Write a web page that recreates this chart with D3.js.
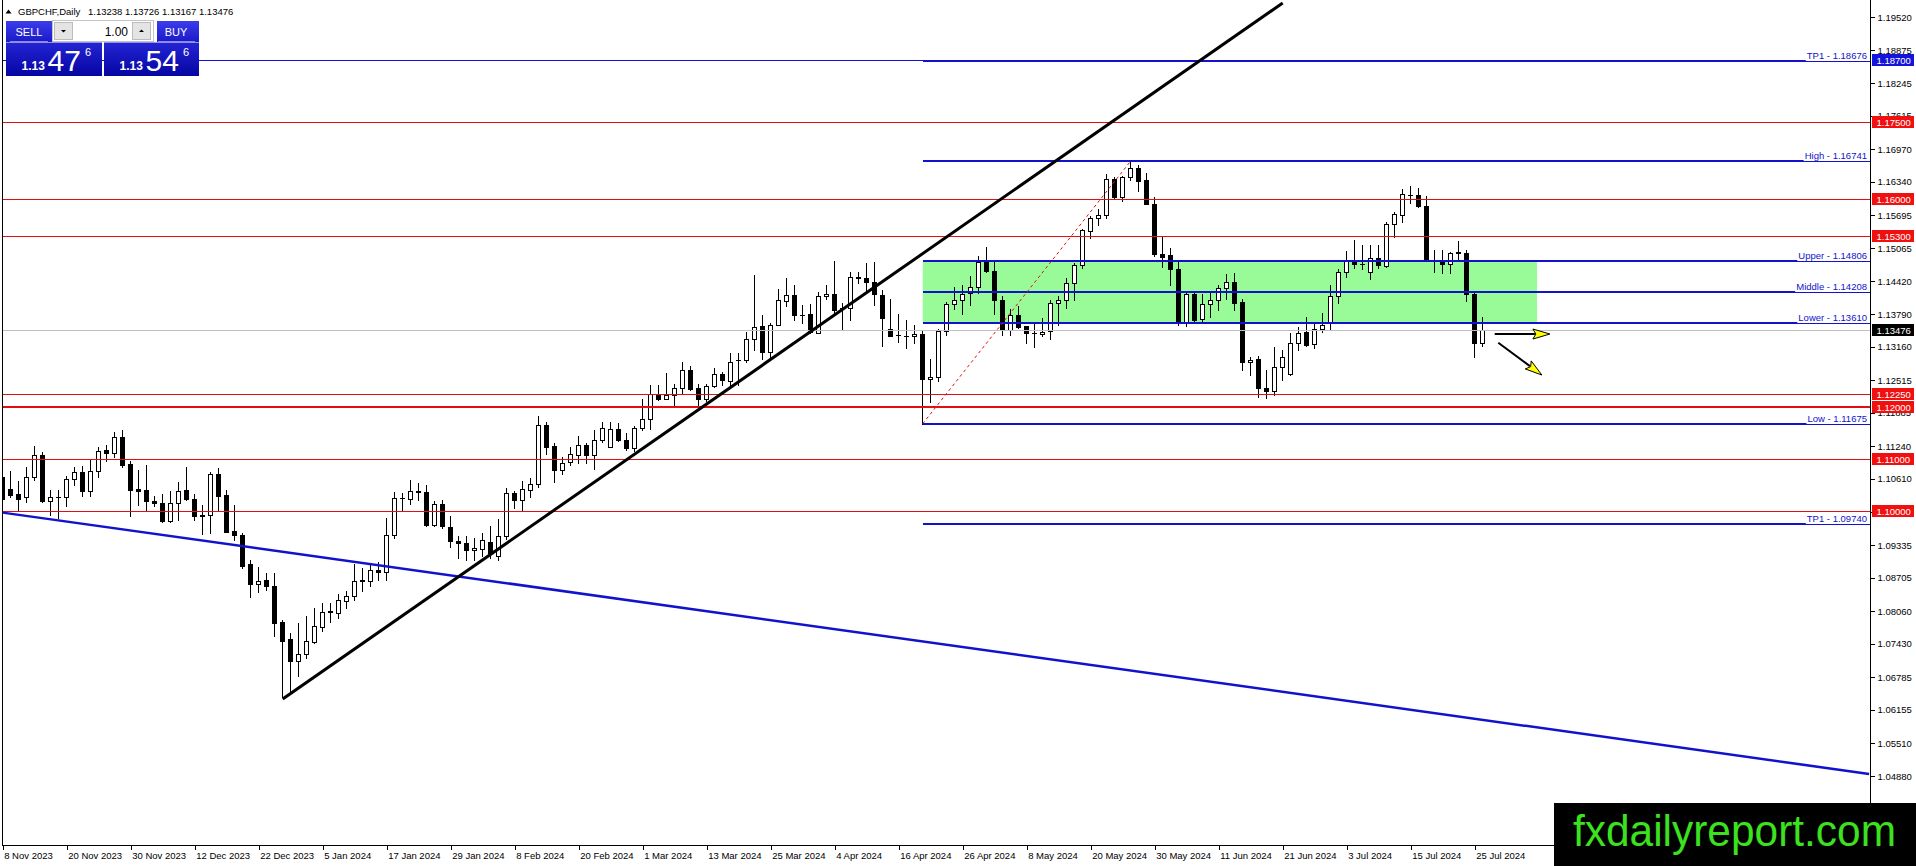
<!DOCTYPE html>
<html>
<head>
<meta charset="utf-8">
<title>GBPCHF Daily</title>
<script src="https://cdn.jsdelivr.net/npm/d3@7/dist/d3.min.js"></script>
<style>
html,body{margin:0;padding:0;background:#ffffff;overflow:hidden;}
svg{display:block;font-family:"Liberation Sans",Arial,Helvetica,sans-serif;}
</style>
</head>
<body>
<svg id="chart" width="1916" height="866"></svg>
<script>
// ---------------- DATA ----------------
const open = [
1.1065,1.1042,1.1031,1.1026,1.1065,1.1108,1.1018,1.1026,1.1026,1.1061,
1.1075,1.1037,1.1077,1.1116,1.1111,1.1141,1.1089,1.1042,1.1040,1.1019,
1.1014,1.0979,1.1014,1.1040,1.1022,1.0990,1.0991,1.1071,1.1030,1.0961,
1.0953,1.0897,1.0858,1.0867,1.0855,1.0786,1.0752,1.0709,1.0723,1.0747,
1.0776,1.0805,1.0803,1.0825,1.0835,1.0865,1.0865,1.0886,1.0881,1.0952,
1.1025,1.1023,1.1037,1.1036,1.0973,1.1013,1.0968,1.0942,1.0938,1.0923,
1.0926,1.0939,1.0912,1.0950,1.1033,1.1020,1.1040,1.1051,1.1165,1.1124,
1.1079,1.1093,1.1108,1.1126,1.1108,1.1137,1.1123,1.1157,1.1137,1.1120,
1.1159,1.1176,1.1224,1.1216,1.1223,1.1236,1.1272,1.1236,1.1216,1.1241,
1.1263,1.1249,1.1290,1.1290,1.1330,1.1356,1.1305,1.1357,1.1405,1.1416,
1.1378,1.1380,1.1343,1.1413,1.1418,1.1390,1.1390,1.1449,1.1448,1.1440,
1.1416,1.1351,1.1339,1.1337,1.1337,1.1341,1.1253,1.1257,1.1346,1.1398,
1.1407,1.1419,1.1431,1.1479,1.1463,1.1407,1.1348,1.1378,1.1356,1.1342,
1.1340,1.1347,1.1400,1.1407,1.1438,1.1473,1.1539,1.1564,1.1571,1.1639,
1.1604,1.1643,1.1660,1.1638,1.1591,1.1494,1.1492,1.1465,1.1361,1.1417,
1.1369,1.1398,1.1407,1.1429,1.1440,1.1402,1.1286,1.1292,1.1236,1.1230,
1.1276,1.1263,1.1323,1.1344,1.1321,1.1351,1.1361,1.1414,1.1460,1.1482,
1.1476,1.1460,1.1488,1.1472,1.1553,1.1570,1.1609,1.1609,1.1587,1.1483,
1.1482,1.1475,1.1498,1.1496,1.1417,1.13238
];
const high = [
1.1070,1.1076,1.1057,1.1084,1.1125,1.1112,1.1039,1.1040,1.1066,1.1084,
1.1086,1.1097,1.1123,1.1126,1.1151,1.1155,1.1096,1.1079,1.1087,1.1029,
1.1031,1.1037,1.1055,1.1084,1.1031,1.1011,1.1074,1.1083,1.1040,1.1011,
1.0956,1.0905,1.0892,1.0879,1.0879,1.0789,1.0763,1.0784,1.0797,1.0812,
1.0821,1.0821,1.0839,1.0844,1.0896,1.0889,1.0896,1.0901,1.0986,1.1036,
1.1034,1.1058,1.1054,1.1050,1.1019,1.1021,1.0989,1.0950,1.0950,1.0947,
1.0956,1.0971,1.0983,1.1043,1.1038,1.1057,1.1062,1.1183,1.1171,1.1130,
1.1103,1.1123,1.1144,1.1131,1.1155,1.1171,1.1171,1.1168,1.1149,1.1163,
1.1215,1.1243,1.1243,1.1265,1.1245,1.1287,1.1278,1.1245,1.1245,1.1275,
1.1268,1.1303,1.1303,1.1344,1.1454,1.1377,1.1362,1.1427,1.1448,1.1435,
1.1397,1.1398,1.1422,1.1435,1.1481,1.1400,1.1461,1.1461,1.1477,1.1480,
1.1425,1.1409,1.1379,1.1368,1.1358,1.1348,1.1292,1.1351,1.1403,1.1432,
1.1435,1.1452,1.1491,1.1508,1.1480,1.1413,1.1388,1.1395,1.1356,1.1361,
1.1371,1.1406,1.1414,1.1449,1.1477,1.1544,1.1568,1.1581,1.1649,1.1644,
1.1645,1.16741,1.1667,1.1652,1.1604,1.1528,1.1506,1.1480,1.1424,1.1420,
1.1417,1.1422,1.1435,1.1456,1.1458,1.1409,1.1297,1.1298,1.1271,1.1316,
1.1310,1.1342,1.1355,1.1374,1.1362,1.1382,1.1435,1.1465,1.1501,1.1521,
1.1512,1.1512,1.1512,1.1557,1.1575,1.1620,1.1626,1.1622,1.1607,1.1503,
1.1503,1.1499,1.1519,1.1503,1.1419,1.13726
];
const low = [
1.1021,1.1027,1.1000,1.1016,1.1059,1.1016,1.0992,1.0985,1.1009,1.1050,
1.1029,1.1029,1.1065,1.1096,1.1104,1.1084,1.0990,1.1011,1.1001,1.1008,
1.0977,1.0977,1.0981,1.1021,1.0982,1.0954,1.0957,1.1000,1.0959,1.0944,
1.0890,1.0834,1.0842,1.0847,1.0758,1.0640,1.0652,1.0680,1.0715,1.0744,
1.0767,1.0786,1.0792,1.0812,1.0828,1.0844,1.0854,1.0867,1.0867,1.0947,
1.1002,1.1012,1.1020,1.0970,1.0971,1.0967,1.0929,1.0908,1.0905,1.0905,
1.0912,1.0908,1.0905,1.0945,1.1005,1.1000,1.1027,1.1046,1.1110,1.1056,
1.1070,1.1087,1.1092,1.1092,1.1081,1.1133,1.1123,1.1135,1.1117,1.1114,
1.1155,1.1157,1.1213,1.1216,1.1202,1.1226,1.1233,1.1200,1.1212,1.1239,
1.1242,1.1242,1.1242,1.1287,1.1310,1.1292,1.1294,1.1357,1.1395,1.1368,
1.1362,1.1342,1.1342,1.1409,1.1382,1.1351,1.1368,1.1438,1.1425,1.1397,
1.1317,1.1337,1.1326,1.1313,1.1323,1.11675,1.1210,1.1249,1.1339,1.1388,
1.1380,1.1397,1.1419,1.1461,1.1380,1.1339,1.1339,1.1353,1.1324,1.1316,
1.1337,1.1331,1.1357,1.1391,1.1406,1.1467,1.1526,1.1551,1.1565,1.1600,
1.1598,1.1638,1.1617,1.1591,1.1491,1.1470,1.1435,1.1357,1.1356,1.1366,
1.1362,1.1373,1.1387,1.1409,1.1386,1.1271,1.1262,1.1219,1.1217,1.1222,
1.1252,1.1261,1.1310,1.1317,1.1313,1.1345,1.1350,1.1400,1.1451,1.1467,
1.1465,1.1446,1.1467,1.1470,1.1527,1.1557,1.1593,1.1585,1.1483,1.1461,
1.1459,1.1458,1.1482,1.1405,1.1296,1.13167
];
const close = [
1.1022,1.1030,1.1023,1.1065,1.1107,1.1018,1.1026,1.1027,1.1061,1.1075,
1.1037,1.1077,1.1114,1.1111,1.1141,1.1088,1.1040,1.1037,1.1018,1.1014,
1.0979,1.1014,1.1038,1.1022,1.0990,1.0991,1.1071,1.1028,1.0959,1.0953,
1.0894,1.0859,1.0865,1.0854,1.0784,1.0749,1.0710,1.0723,1.0748,1.0778,
1.0805,1.0806,1.0827,1.0836,1.0864,1.0866,1.0886,1.0881,1.0952,1.1025,
1.1024,1.1037,1.1036,1.0973,1.1013,1.0970,1.0941,1.0938,1.0923,1.0927,
1.0943,1.0918,1.0950,1.1034,1.1020,1.1042,1.1051,1.1165,1.1123,1.1078,
1.1091,1.1109,1.1126,1.1108,1.1137,1.1159,1.1157,1.1137,1.1120,1.1159,
1.1176,1.1224,1.1215,1.1223,1.1236,1.1272,1.1235,1.1216,1.1241,1.1263,
1.1252,1.1287,1.1291,1.1330,1.1355,1.1305,1.1357,1.1406,1.1415,1.1377,
1.1378,1.1345,1.1414,1.1418,1.1387,1.1391,1.1450,1.1450,1.1440,1.1418,
1.1372,1.1337,1.1338,1.1337,1.1340,1.1253,1.1258,1.1346,1.1398,1.1407,
1.1417,1.1431,1.1479,1.1463,1.1407,1.1348,1.1378,1.1355,1.1342,1.1342,
1.1345,1.1400,1.1407,1.1438,1.1473,1.1541,1.1564,1.1571,1.1639,1.1604,
1.1643,1.1660,1.1636,1.1591,1.1494,1.1490,1.1465,1.1361,1.1417,1.1368,
1.1398,1.1407,1.1429,1.1440,1.1401,1.1286,1.1290,1.1236,1.1230,1.1276,
1.1296,1.1323,1.1343,1.1319,1.1351,1.1358,1.1414,1.1460,1.1481,1.1476,
1.1475,1.1488,1.1474,1.1553,1.1572,1.1610,1.1609,1.1587,1.1483,1.1483,
1.1476,1.1496,1.1497,1.1417,1.1323,1.13476
];

const dateLabels = ["8 Nov 2023","20 Nov 2023","30 Nov 2023","12 Dec 2023","22 Dec 2023","5 Jan 2024",
  "17 Jan 2024","29 Jan 2024","8 Feb 2024","20 Feb 2024","1 Mar 2024","13 Mar 2024","25 Mar 2024",
  "4 Apr 2024","16 Apr 2024","26 Apr 2024","8 May 2024","20 May 2024","30 May 2024","11 Jun 2024",
  "21 Jun 2024","3 Jul 2024","15 Jul 2024","25 Jul 2024"];
const dateBars = [0,8,16,24,32,40,48,56,64,72,80,88,96,104,112,120,128,136,144,152,160,168,176,184];

const yTicks = [1.19520,1.18875,1.18245,1.17615,1.16970,1.16340,1.15695,1.15065,1.14420,1.13790,
  1.13160,1.12515,1.11885,1.11240,1.10610,1.09980,1.09335,1.08705,1.08060,1.07430,1.06785,
  1.06155,1.05510,1.04880];

const redLevels = [1.17500,1.16000,1.15300,1.12250,1.12000,1.11000,1.10000];
const redWidths = [1,1,1,1,2,1,1];
const blueLevel = 1.18700;
const currentPrice = 1.13476;

const zoneNames  = ["TP1","High","Upper","Middle","Lower","Low","TP1"];
const zoneValues = [1.18676,1.16741,1.14806,1.14208,1.13610,1.11675,1.09740];
const zoneStartBar = 115;
const zoneRectEndBar = 191.8;

const upTrend    = [[35,1.06364],[160,1.19790]];
const downTrend  = [[0,1.09960],[233.3,1.04920]];
const dottedLine = [[115,1.11675],[141,1.16741]];
const arrowFlat  = [[186.5,1.13405],[193.4,1.13405]];
const arrowDown  = [[186.95,1.13237],[192.4,1.12614]];

const headerSymbol = "GBPCHF,Daily";
const headerOHLC = [1.13238,1.13726,1.13167,1.13476];
const bidParts = ["1.13","47","6"];
const askParts = ["1.13","54","6"];
const lotText = "1.00";
const watermark = "fxdailyreport.com";

// ---------------- SETUP ----------------
const svg = d3.select("#chart");
const plot = {left:2, right:1870, top:0, bottom:845};
const x = d3.scaleLinear().domain([0,185]).range([2.7,1482.7]);
const y = d3.scaleLinear().domain([1.0488,1.1952]).range([776,17]);
const cx = i => Math.floor(x(i)) + 0.5;
const hy = v => Math.round(y(v)) + 0.5;

const RED = "#e01010", BLUE = "#1212cc";

const defs = svg.append("defs");
defs.append("clipPath").attr("id","plotClip").append("rect")
  .attr("x",plot.left).attr("y",plot.top)
  .attr("width",plot.right-plot.left).attr("height",plot.bottom-plot.top);
function grad(id,c1,c2){
  const g = defs.append("linearGradient").attr("id",id)
    .attr("x1",0).attr("y1",0).attr("x2",0).attr("y2",1);
  g.append("stop").attr("offset","0%").attr("stop-color",c1);
  g.append("stop").attr("offset","100%").attr("stop-color",c2);
}
grad("btnGrad","#3c3cec","#1a1ac8");
grad("priceGrad","#2424d4","#0505a2");

svg.append("rect").attr("width",1916).attr("height",866).attr("fill","#ffffff");

const chart = svg.append("g").attr("clip-path","url(#plotClip)");

// zone rectangle (background)
chart.append("rect")
  .attr("x",x(zoneStartBar)).attr("width",x(zoneRectEndBar)-x(zoneStartBar))
  .attr("y",y(zoneValues[2])).attr("height",y(zoneValues[4])-y(zoneValues[2]))
  .attr("fill","#98fb98");

// candles
const bars = d3.range(open.length).map(i=>({i,o:open[i],h:high[i],l:low[i],c:close[i]}));
const cg = chart.append("g").attr("shape-rendering","crispEdges");
cg.selectAll("line.wick").data(bars).join("line").attr("class","wick")
  .attr("x1",d=>cx(d.i)).attr("x2",d=>cx(d.i))
  .attr("y1",d=>Math.round(y(d.h))).attr("y2",d=>Math.round(y(d.l))+1)
  .attr("stroke","#000").attr("stroke-width",1);
const hasBody = d => hy(Math.min(d.o,d.c)) - hy(Math.max(d.o,d.c)) >= 1;
cg.selectAll("rect.body").data(bars.filter(hasBody)).join("rect").attr("class","body")
  .attr("x",d=>cx(d.i)-2).attr("width",4)
  .attr("y",d=>hy(Math.max(d.o,d.c)))
  .attr("height",d=>hy(Math.min(d.o,d.c))-hy(Math.max(d.o,d.c)))
  .attr("fill",d=>d.c>=d.o?"#ffffff":"#000000")
  .attr("stroke","#000").attr("stroke-width",1);
cg.selectAll("line.doji").data(bars.filter(d=>!hasBody(d))).join("line").attr("class","doji")
  .attr("x1",d=>cx(d.i)-2.5).attr("x2",d=>cx(d.i)+2.5)
  .attr("y1",d=>hy(d.o)).attr("y2",d=>hy(d.o))
  .attr("stroke","#000").attr("stroke-width",1);

// horizontal full-width lines
const hg = chart.append("g").attr("shape-rendering","crispEdges");
hg.append("line").attr("x1",plot.left).attr("x2",plot.right)
  .attr("y1",hy(currentPrice)).attr("y2",hy(currentPrice))
  .attr("stroke","#c0c0c0").attr("stroke-width",1);
hg.append("line").attr("x1",plot.left).attr("x2",plot.right)
  .attr("y1",hy(blueLevel)).attr("y2",hy(blueLevel))
  .attr("stroke",BLUE).attr("stroke-width",1);
hg.selectAll("line.red").data(redLevels).join("line").attr("class","red")
  .attr("x1",plot.left).attr("x2",plot.right)
  .attr("y1",(d,i)=>redWidths[i]===2?Math.round(y(d)):hy(d))
  .attr("y2",(d,i)=>redWidths[i]===2?Math.round(y(d)):hy(d))
  .attr("stroke",RED).attr("stroke-width",(d,i)=>redWidths[i]);

// zone lines
hg.selectAll("line.zone").data(zoneValues).join("line").attr("class","zone")
  .attr("x1",x(zoneStartBar)).attr("x2",plot.right)
  .attr("y1",d=>Math.round(y(d))).attr("y2",d=>Math.round(y(d)))
  .attr("stroke",BLUE).attr("stroke-width",2);

// zone labels
zoneValues.forEach((v,k)=>{
  const ly = Math.round(y(v));
  const g = chart.append("g");
  const r = g.append("rect").attr("fill","#ffffff");
  const t = g.append("text").attr("x",1867).attr("y",ly-2.5)
    .attr("text-anchor","end").attr("font-size",9.5).attr("fill",BLUE)
    .text(zoneNames[k]+" - "+v.toFixed(5));
  const bb = t.node().getBBox();
  r.attr("x",bb.x-1).attr("y",ly-12).attr("width",plot.right-bb.x+1).attr("height",12);
});

// trend lines
function seg(sel,pts){
  return sel.attr("x1",x(pts[0][0])).attr("y1",y(pts[0][1]))
            .attr("x2",x(pts[1][0])).attr("y2",y(pts[1][1]));
}
seg(chart.append("line"),downTrend).attr("stroke",BLUE).attr("stroke-width",2.5);
seg(chart.append("line"),upTrend).attr("stroke","#000").attr("stroke-width",3);
seg(chart.append("line"),dottedLine).attr("stroke",RED).attr("stroke-width",1)
  .attr("stroke-dasharray","3,3");

// arrows
function arrow(pts){
  const x0=x(pts[0][0]), y0=y(pts[0][1]), x1=x(pts[1][0]), y1=y(pts[1][1]);
  const L=Math.hypot(x1-x0,y1-y0), ux=(x1-x0)/L, uy=(y1-y0)/L;
  const hl=17, hw=5, bx=x1-hl*ux, by=y1-hl*uy;
  chart.append("line").attr("x1",x0).attr("y1",y0).attr("x2",bx+2*ux).attr("y2",by+2*uy)
    .attr("stroke","#000").attr("stroke-width",2);
  chart.append("path")
    .attr("d",`M${x1},${y1}L${bx-hw*uy},${by+hw*ux}L${bx+3*ux},${by+3*uy}L${bx+hw*uy},${by-hw*ux}Z`)
    .attr("fill","#ffff00").attr("stroke","#000").attr("stroke-width",1);
}
arrow(arrowFlat);
arrow(arrowDown);

// ---------------- AXES ----------------
const frame = svg.append("g").attr("shape-rendering","crispEdges");
frame.append("line").attr("x1",plot.right+0.5).attr("x2",plot.right+0.5)
  .attr("y1",0).attr("y2",plot.bottom+1).attr("stroke","#000");
frame.append("line").attr("x1",plot.left+0.5).attr("x2",plot.right+0.5)
  .attr("y1",plot.bottom+0.5).attr("y2",plot.bottom+0.5).attr("stroke","#000");
frame.append("line").attr("x1",plot.left+0.5).attr("x2",plot.left+0.5)
  .attr("y1",0).attr("y2",plot.bottom+1).attr("stroke","#000");

const yAxisG = svg.append("g").attr("transform",`translate(${plot.right+0.5},0)`)
  .call(d3.axisRight(y).tickValues(yTicks).tickSize(4).tickPadding(3).tickFormat(d=>d.toFixed(5)));
yAxisG.select(".domain").remove();
yAxisG.attr("font-family","Liberation Sans, Arial, sans-serif").attr("font-size",9.5);
yAxisG.selectAll("text").attr("fill","#000");
yAxisG.selectAll("line").attr("stroke","#000").attr("shape-rendering","crispEdges");

const xAxisG = svg.append("g").attr("transform",`translate(0,${plot.bottom+0.5})`)
  .call(d3.axisBottom(x).tickValues(dateBars).tickSize(4).tickPadding(3).tickFormat((d,i)=>dateLabels[i]));
xAxisG.select(".domain").remove();
xAxisG.attr("font-family","Liberation Sans, Arial, sans-serif").attr("font-size",9.5);
xAxisG.selectAll("text").attr("text-anchor","start").attr("x",1).attr("fill","#000");
xAxisG.selectAll("line").attr("stroke","#000").attr("shape-rendering","crispEdges");

// price boxes on axis
const boxes = redLevels.map(v=>({v,bg:"#f01010"}))
  .concat([{v:blueLevel,bg:"#1414dc"},{v:currentPrice,bg:"#000000"}]);
const bg = svg.append("g");
bg.selectAll("rect").data(boxes).join("rect")
  .attr("x",plot.right+1.5).attr("width",42)
  .attr("y",d=>Math.round(y(d.v))-6).attr("height",12)
  .attr("fill",d=>d.bg).attr("shape-rendering","crispEdges");
bg.selectAll("text").data(boxes).join("text")
  .attr("x",plot.right+6.5).attr("y",d=>Math.round(y(d.v))+3.5)
  .attr("font-size",9.5).attr("fill","#ffffff")
  .text(d=>d.v.toFixed(5));

// ---------------- HEADER ----------------
svg.append("path").attr("d","M5.5,13.5L11.5,13.5L8.5,9.5Z").attr("fill","#000");
svg.append("text").attr("x",18).attr("y",14.5).attr("font-size",9.5).attr("fill","#000")
  .text(headerSymbol);
svg.append("text").attr("x",88).attr("y",14.5).attr("font-size",9.5).attr("fill","#000")
  .text(headerOHLC.map(v=>v.toFixed(5)).join(" "));

// ---------------- TRADE PANEL ----------------
const p = svg.append("g");
p.append("rect").attr("x",6).attr("y",21).attr("width",46).attr("height",21).attr("fill","url(#btnGrad)");
p.append("rect").attr("x",157).attr("y",21).attr("width",42).attr("height",21).attr("fill","url(#btnGrad)");
p.append("line").attr("x1",10).attr("x2",48).attr("y1",41.5).attr("y2",41.5).attr("stroke","#8888f0");
p.append("line").attr("x1",158).attr("x2",195).attr("y1",41.5).attr("y2",41.5).attr("stroke","#8888f0");
p.append("text").attr("x",29).attr("y",35.5).attr("text-anchor","middle").attr("font-size",11).attr("fill","#fff").text("SELL");
p.append("text").attr("x",176).attr("y",35.5).attr("text-anchor","middle").attr("font-size",11).attr("fill","#fff").text("BUY");
p.append("rect").attr("x",52.5).attr("y",20.5).attr("width",101).attr("height",21).attr("fill","#ffffff").attr("stroke","#c4c4c4");
p.append("rect").attr("x",54.5).attr("y",22.5).attr("width",18).attr("height",17).attr("fill","#e4e4e4").attr("stroke","#bcbcbc");
p.append("rect").attr("x",132.5).attr("y",22.5).attr("width",18).attr("height",17).attr("fill","#e4e4e4").attr("stroke","#bcbcbc");
p.append("path").attr("d","M61,30L66,30L63.5,32.5Z").attr("fill","#000");
p.append("path").attr("d","M139,32L144,32L141.5,29.5Z").attr("fill","#000");
p.append("text").attr("x",128).attr("y",35.5).attr("text-anchor","end").attr("font-size",12).attr("fill","#000").text(lotText);
p.append("rect").attr("x",6).attr("y",42.5).attr("width",96).attr("height",33.5).attr("fill","url(#priceGrad)");
p.append("rect").attr("x",104).attr("y",42.5).attr("width",95).attr("height",33.5).attr("fill","url(#priceGrad)");
function quote(parts,x0){
  p.append("text").attr("x",x0).attr("y",70).attr("font-size",12).attr("font-weight","bold").attr("fill","#fff").text(parts[0]);
  p.append("text").attr("x",x0+26).attr("y",70.5).attr("font-size",30).attr("fill","#fff").text(parts[1]);
  p.append("text").attr("x",x0+63.5).attr("y",55.5).attr("font-size",11).attr("fill","#fff").text(parts[2]);
}
quote(bidParts,21.5);
quote(askParts,119.5);

// ---------------- WATERMARK ----------------
svg.append("rect").attr("x",1554).attr("y",803).attr("width",362).attr("height",63).attr("fill","#000");
svg.append("text").attr("x",1573).attr("y",846).attr("font-size",44)
  .attr("textLength",323).attr("lengthAdjust","spacingAndGlyphs")
  .attr("fill","#3ce11f").text(watermark);
</script>
</body>
</html>
